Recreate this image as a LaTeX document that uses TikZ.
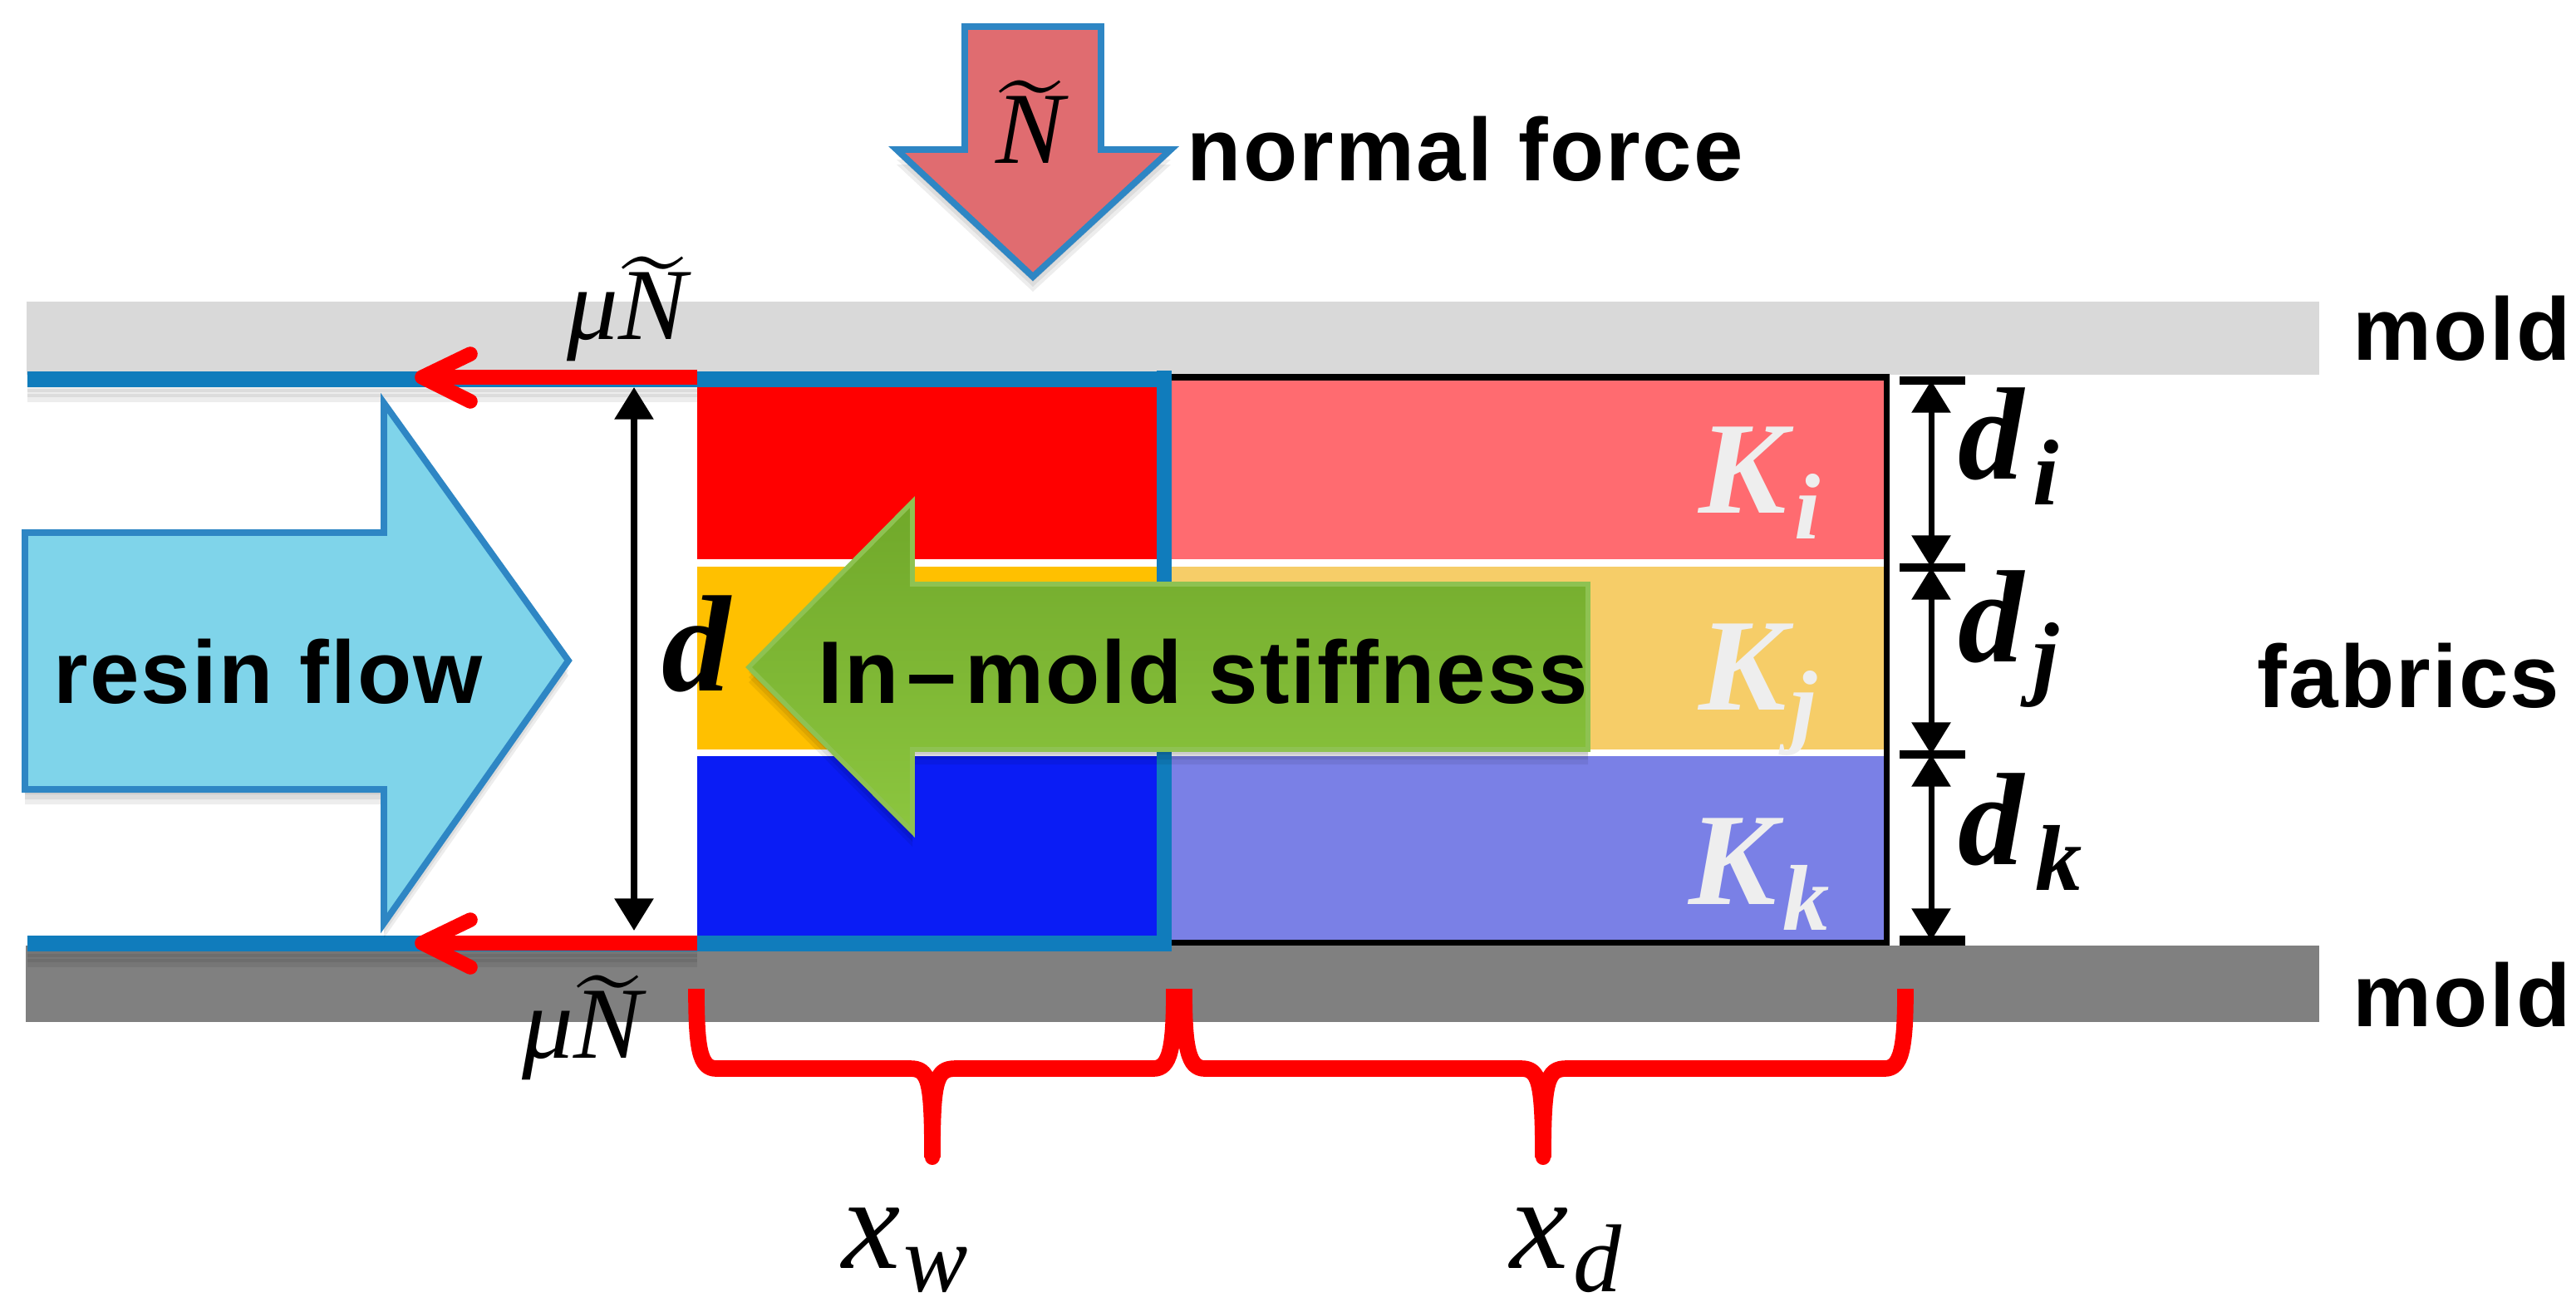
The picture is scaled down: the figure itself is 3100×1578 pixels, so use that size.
\documentclass[tikz,border=0pt]{standalone}
\usepackage{fontspec}
\usepackage{graphicx}
\usetikzlibrary{arrows.meta}
\setmainfont{Liberation Sans}
\newfontfamily\lab[LetterSpace=2]{Liberation Sans}
\newfontfamily\serif{Liberation Serif}
\definecolor{edgeblue}{HTML}{2E86C4}
\definecolor{lineblue}{HTML}{107CBC}
\definecolor{forcefill}{HTML}{E06C70}
\definecolor{resinfill}{HTML}{7FD4EA}
\definecolor{greentop}{HTML}{70A82A}
\definecolor{greenbot}{HTML}{8CC63F}
\definecolor{greenedge}{HTML}{8EC252}
\definecolor{pinkr}{HTML}{FF6B70}
\definecolor{goldr}{HTML}{F6CD68}
\definecolor{bluer}{HTML}{7A80E6}
\definecolor{moldlight}{HTML}{D9D9D9}
\definecolor{molddark}{HTML}{808080}
\definecolor{kwhite}{HTML}{EEEEEE}
\definecolor{layerred}{HTML}{FF0000}
\definecolor{layergold}{HTML}{FFC000}
\definecolor{layerblue}{HTML}{0A1CF5}
\newcommand{\Ntl}{\scalebox{3.8}{\fontsize{10}{12}\selectfont$\widetilde{\hbox{\raisebox{0pt}[4.5pt][0pt]{\fontsize{9.2}{12}\selectfont\serif\itshape N}}}$}}
\newcommand{\muNt}{{\fontsize{35}{40}\selectfont\serif\itshape μ}\Ntl}
% big bold-italic symbol with a subscript: #1 symbol, #2 subscript, #3 drop, #4 gap
\newcommand{\bsym}[4]{{\serif\bfseries\itshape\fontsize{45}{50}\selectfont #1\kern #4\raisebox{-#3}{\fontsize{32}{36}\selectfont #2}}}
\newcommand{\isym}[4]{{\serif\itshape\fontsize{45}{50}\selectfont #1\kern #4\raisebox{-#3}{\fontsize{33}{36}\selectfont #2}}}
\tikzset{
  x=0.01cm,y=-0.01cm,
  lbl/.style={inner sep=0pt,anchor=base west,font=\lab\bfseries\fontsize{30.4}{36}\selectfont},
  sym/.style={inner sep=0pt,anchor=base west},
  shade layer/.style={fill=black,opacity=.07},
  blockedge/.style={draw=edgeblue,line width=2.2pt,line join=miter},
  flowline/.style={draw=lineblue,line width=5.4pt},
  dim/.style={draw=black,line width=2pt,{Triangle[width=13pt,length=11pt]}-{Triangle[width=13pt,length=11pt]}},
  tick/.style={draw=black,line width=2.6pt},
  redline/.style={draw=red,line width=5pt},
  redhead/.style={draw=red,line width=5pt,line cap=round,line join=round},
  brace/.style={draw=red,line width=5.6pt,line join=round},
}
\def\pathN{(1161,32) -- (1325,32) -- (1325,180) -- (1409,180) -- (1243,333) -- (1079,180) -- (1161,180) -- cycle}
\def\pathR{(30,641) -- (462,641) -- (462,485) -- (684,795) -- (462,1111) -- (462,950) -- (30,950) -- cycle}
\def\pathG{(901,803) -- (1098,604) -- (1098,703) -- (1911,703) -- (1911,902) -- (1098,902) -- (1098,1001) -- cycle}
\begin{document}
\begin{tikzpicture}
\useasboundingbox (0,0) rectangle (3100,1578);
\fill[white] (0,0) rectangle (3100,1578);
% molds
\fill[moldlight] (32,363) rectangle (2791,451);
\fill[molddark] (31,1138) rectangle (2791,1230);
% layers, wetted part
\fill[layerred] (839,460) rectangle (1392,673);
\fill[layergold] (839,682) rectangle (1392,902);
\fill[layerblue] (839,910) rectangle (1392,1130);
% layers, dry part
\fill[pinkr] (1410,458) rectangle (2267,673);
\fill[goldr] (1410,682) rectangle (2267,902);
\fill[bluer] (1410,910) rectangle (2267,1131);
\draw[black,line width=2pt] (1405,454) -- (2270,454) -- (2270,1134.5) -- (1405,1134.5);
% shadows of the flow lines
\foreach \o in {6,12,18}{
  \fill[shade layer] (33,456+\o) rectangle (839,456+10+\o);
  \fill[shade layer] (33,1136+\o) rectangle (839,1136+10+\o);
}
% flow front lines
\draw[flowline] (33,456) -- (1401,456);
\draw[flowline] (33,1135) -- (1401,1135);
\draw[draw=lineblue,line width=5.1pt] (1401,446) -- (1401,1145);
% red friction arrows
\coordinate (tA) at (839,454);
\coordinate (tB) at (512,454);
\coordinate (bA) at (839,1135);
\coordinate (bB) at (512,1135);
\draw[redline] (tA) -- (tB);
\draw[redline] (bA) -- (bB);
\draw[redhead] (566,426) -- (508,454) -- (566,483);
\draw[redhead] (566,1107) -- (508,1135) -- (566,1164);
% thickness arrow
\coordinate (dT) at (763,466);
\coordinate (dB) at (763,1120);
\draw[dim] (dT) -- (dB);
% normal force arrow
\foreach \o in {6,12,18}{\fill[shade layer,shift={(0,\o)}] \pathN;}
\draw[blockedge,fill=forcefill] \pathN;
% resin flow arrow
\foreach \o in {6,12,18}{\fill[shade layer,shift={(0,\o)}] \pathR;}
\draw[blockedge,fill=resinfill] \pathR;
% stiffness arrow
\foreach \o in {6,12,18}{\fill[shade layer,shift={(0,\o)}] \pathG;}
\draw[draw=greenedge,line width=1.6pt,top color=greentop,bottom color=greenbot] \pathG;
% right dimension arrows
\coordinate (a1) at (2324,458);
\coordinate (a2) at (2324,683);
\coordinate (a3) at (2324,908);
\coordinate (a4) at (2324,1132);
\draw[dim] (a1) -- (a2);
\draw[dim] (a2) -- (a3);
\draw[dim] (a3) -- (a4);
\draw[tick] (2286,458) -- (2365,458);
\draw[tick] (2286,683) -- (2365,683);
\draw[tick] (2286,908) -- (2365,908);
\draw[black,line width=3.4pt] (2286,1132) -- (2365,1132);
% braces
\coordinate (w0) at (838,1190);
\coordinate (wm) at (1122,1393);
\coordinate (w1) at (1413,1190);
\coordinate (d0) at (1425,1190);
\coordinate (dm) at (1857,1393);
\coordinate (d1) at (2293,1190);
\draw[brace] (w0) .. controls (838,1262) and (842,1286) .. (862,1286) -- (1095,1286) .. controls (1118,1286) and (1122,1300) .. (wm);
\draw[brace] (w1) .. controls (1413,1262) and (1408,1286) .. (1388,1286) -- (1150,1286) .. controls (1126,1286) and (1122,1300) .. (wm);
\draw[brace] (d0) .. controls (1425,1262) and (1430,1286) .. (1450,1286) -- (1830,1286) .. controls (1852,1286) and (1857,1300) .. (dm);
\draw[brace] (d1) .. controls (2293,1262) and (2288,1286) .. (2268,1286) -- (1885,1286) .. controls (1862,1286) and (1857,1300) .. (dm);
\foreach \p in {wm,dm}{\fill[red] (\p) circle (9);}
% labels
\node[lbl] (nf) at (1428,217) {normal force};
\node[lbl] (rf) at (64,846) {resin flow};
\node[lbl] (ims) at (984,846) {In\kern2.8pt–\kern2.8pt mold stiffness};
\node[lbl] (m1) at (2831,433) {mold};
\node[lbl] (m2) at (2831,1235) {mold};
\node[lbl] (fb) at (2716,851) {fabrics};
\node[sym] (Nt) at (1198,196) {\Ntl};
\node[sym] (muT) at (682,408) {\muNt};
\node[sym] (muB) at (628,1273) {\muNt};
\node[sym] (dd) at (796,831) {\serif\bfseries\itshape\fontsize{47}{50}\selectfont d};
\node[sym,text=kwhite] (Ki) at (2044,617) {\bsym{K}{i}{9pt}{2.5pt}};
\node[sym,text=kwhite] (Kj) at (2044,854) {\bsym{K}{j}{9pt}{1.5pt}};
\node[sym,text=kwhite] (Kk) at (2032,1088) {\bsym{K}{k}{9pt}{2pt}};
\node[sym] (di) at (2356,576) {\bsym{d}{i}{9pt}{3pt}};
\node[sym] (dj) at (2356,796) {\bsym{d}{j}{9pt}{3pt}};
\node[sym] (dk) at (2356,1040) {\bsym{d}{k}{9pt}{4pt}};
\node[sym] (xw) at (1013,1526) {\isym{x}{w}{8pt}{1pt}};
\node[sym] (xd) at (1817,1526) {\isym{x}{d}{8pt}{1.5pt}};
\end{tikzpicture}
\end{document}
